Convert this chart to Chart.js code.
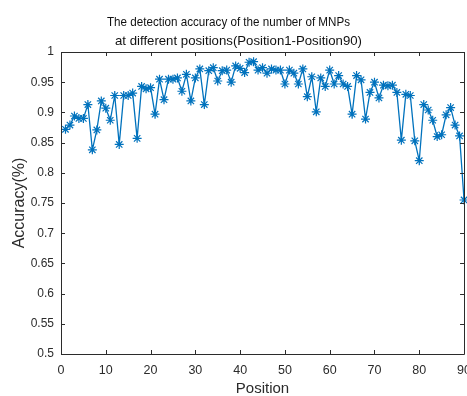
<!DOCTYPE html>
<html><head><meta charset="utf-8">
<script src="https://cdn.jsdelivr.net/npm/chart.js@4"></script>
<style>
html,body{margin:0;padding:0;background:#fff;overflow:hidden;width:467px;height:396px}
#wrap{position:absolute;left:0;top:0;width:480px;height:396px}
</style></head><body>
<div id="wrap"><canvas id="c" width="480" height="396"></canvas></div>
<script>
const titleLines = ['The detection accuracy of the number of MNPs', 'at different positions(Position1-Position90)'];
const xAxisTitle = 'Position';
const yAxisTitle = 'Accuracy(%)';
const positions = [1,2,3,4,5,6,7,8,9,10,11,12,13,14,15,16,17,18,19,20,21,22,23,24,25,26,27,28,29,30,
  31,32,33,34,35,36,37,38,39,40,41,42,43,44,45,46,47,48,49,50,51,52,53,54,55,56,57,58,59,60,
  61,62,63,64,65,66,67,68,69,70,71,72,73,74,75,76,77,78,79,80,81,82,83,84,85,86,87,88,89,90];
const accuracy = [
  0.872, 0.879, 0.894, 0.890, 0.890, 0.913, 0.838, 0.871, 0.919, 0.907,
  0.887, 0.928, 0.847, 0.928, 0.928, 0.932, 0.857, 0.943, 0.939, 0.941,
  0.897, 0.955, 0.921, 0.955, 0.955, 0.957, 0.935, 0.963, 0.919, 0.957,
  0.972, 0.913, 0.969, 0.974, 0.952, 0.969, 0.970, 0.950, 0.977, 0.973,
  0.966, 0.983, 0.984, 0.970, 0.974, 0.965, 0.972, 0.970, 0.970, 0.947,
  0.970, 0.965, 0.947, 0.972, 0.926, 0.959, 0.901, 0.957, 0.943, 0.970,
  0.947, 0.961, 0.947, 0.943, 0.897, 0.961, 0.954, 0.889, 0.933, 0.950,
  0.924, 0.945, 0.944, 0.945, 0.933, 0.854, 0.930, 0.928, 0.853, 0.820,
  0.913, 0.904, 0.887, 0.860, 0.863, 0.896, 0.908, 0.879, 0.861, 0.755];
const xTickValues = [0,10,20,30,40,50,60,70,80,90];
const xTickLabels = ['0','10','20','30','40','50','60','70','80','90'];
const yTickValues = [0.5,0.55,0.6,0.65,0.7,0.75,0.8,0.85,0.9,0.95,1];
const yTickLabels = ['0.5','0.55','0.6','0.65','0.7','0.75','0.8','0.85','0.9','0.95','1'];

const FONT = '"Liberation Sans", Arial, Helvetica, sans-serif';
const AXC = '#2b2b2b';

function drawFitted(ctx, text, left, right, cy) {
  const w = ctx.measureText(text).width;
  const sx = (right - left) / w;
  ctx.save();
  ctx.translate(left, cy);
  ctx.scale(sx, 1);
  ctx.textAlign = 'left';
  ctx.textBaseline = 'middle';
  ctx.fillText(text, 0, 0);
  ctx.restore();
}

const framePlugin = {
  id: 'frame',
  afterDraw(chart) {
    const {ctx, chartArea: a} = chart;
    const xs = chart.scales.x, ys = chart.scales.y;
    ctx.save();
    ctx.strokeStyle = AXC;
    ctx.lineWidth = 1;
    ctx.beginPath();
    ctx.rect(Math.round(a.left) + 0.5, Math.round(a.top) + 0.5, Math.round(a.right - a.left), Math.round(a.bottom - a.top));
    ctx.stroke();
    const L = 4;
    ctx.beginPath();
    xTickValues.forEach(v => {
      const px = Math.round(xs.getPixelForValue(v)) + 0.5;
      ctx.moveTo(px, a.bottom); ctx.lineTo(px, a.bottom - L);
      ctx.moveTo(px, a.top); ctx.lineTo(px, a.top + L);
    });
    yTickValues.forEach(v => {
      const py = Math.round(ys.getPixelForValue(v)) + 0.5;
      ctx.moveTo(a.left, py); ctx.lineTo(a.left + L, py);
      ctx.moveTo(a.right, py); ctx.lineTo(a.right - L, py);
    });
    ctx.stroke();
    ctx.fillStyle = '#111';
    ctx.font = '13px ' + FONT;
    drawFitted(ctx, titleLines[0], 107, 350, 22);
    drawFitted(ctx, titleLines[1], 115, 362, 41);
    ctx.restore();
  }
};

new Chart(document.getElementById('c'), {
  type: 'line',
  data: {
    datasets: [{
      data: positions.map((p, i) => ({x: p, y: accuracy[i]})),
      borderColor: '#0072BD',
      backgroundColor: '#0072BD',
      borderWidth: 1.3,
      pointStyle: 'star',
      pointRadius: 4.5,
      pointBorderColor: '#0072BD',
      pointBorderWidth: 1.2,
      fill: false,
      tension: 0,
      clip: false
    }]
  },
  options: {
    responsive: false,
    animation: false,
    devicePixelRatio: 1,
    layout: {padding: {top: 52, right: 15, left: 0, bottom: 0}},
    plugins: {legend: {display: false}, tooltip: {enabled: false}, title: {display: false}},
    scales: {
      x: {
        type: 'linear', min: 0, max: 90,
        afterBuildTicks: s => { s.ticks = xTickValues.map(v => ({value: v})); },
        afterFit: s => { s.height = 42; },
        grid: {display: false, drawTicks: false},
        border: {display: false},
        ticks: {color: AXC, font: {family: FONT, size: 12.5}, padding: 9, autoSkip: false, maxRotation: 0,
          callback: (v, i) => xTickLabels[i]},
        title: {display: true, text: xAxisTitle, color: AXC, font: {family: FONT, size: 15}, padding: {top: 0, bottom: -2}}
      },
      y: {
        type: 'linear', min: 0.5, max: 1,
        afterBuildTicks: s => { s.ticks = yTickValues.map(v => ({value: v})); },
        afterFit: s => { s.width = 61; },
        grid: {display: false, drawTicks: false},
        border: {display: false},
        ticks: {color: AXC, font: {family: FONT, size: 12}, padding: 7, autoSkip: false,
          callback: (v, i) => yTickLabels[i]},
        title: {display: true, text: yAxisTitle, color: AXC, font: {family: FONT, size: 16}, padding: {top: 10, bottom: 0}}
      }
    }
  },
  plugins: [framePlugin]
});
</script>
</body></html>
